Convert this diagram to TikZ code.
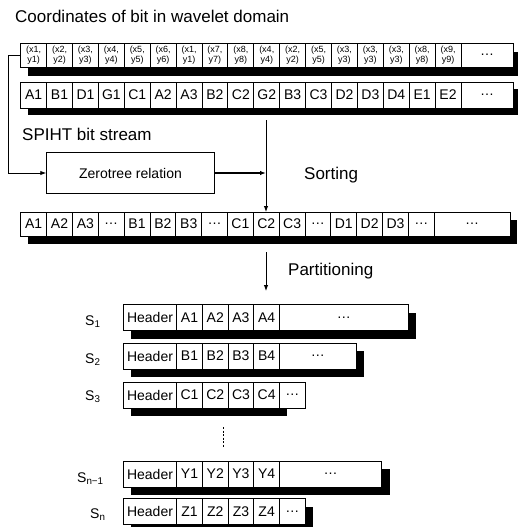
\documentclass[tikz,border=0pt]{standalone}
\usepackage{fontspec}
\setmainfont{Liberation Sans}
\usetikzlibrary{arrows.meta,backgrounds}
\begin{document}
\begin{tikzpicture}[x=1pt,y=-1pt,
  cell/.style={draw=black, fill=white, line width=0.9pt, inner sep=0pt, outer sep=0pt,
    anchor=north west, font=\fontsize{14}{16}\selectfont},
  coordcell/.style={cell, font=\fontsize{9}{10}\selectfont, align=center,
    minimum width=25.9pt, minimum height=24pt},
  bitcell/.style={cell, minimum width=25.9pt, minimum height=26pt},
  sortcell/.style={cell, minimum width=25.85pt, minimum height=24pt},
  partcell/.style={cell, minimum width=25.7pt, minimum height=26pt},
  shade/.style={fill=black},
  biglabel/.style={inner sep=0pt, anchor=base west, font=\fontsize{17}{20}\selectfont},
  slabel/.style={inner sep=0pt, anchor=base west, font=\fontsize{14}{16}\selectfont},
  connector/.style={draw=black, line width=0.9pt},
  arr/.style={connector, -{Latex[length=6pt,width=4.5pt]}},
]
\clip (0,0) rectangle (518,527);

% headings
\node[biglabel] (title) at (15,23) {Coordinates of bit in wavelet domain};
\node[biglabel] (spiht) at (22,140) {SPIHT bit stream};
\node[biglabel] (sorting) at (304,179) {Sorting};
\node[biglabel] (partitioning) at (288,275) {Partitioning};

% coordinates of the bits
\foreach \k [count=\i] in {1,2,3,4,5,6,1,7,8,4,2,5,3,3,3,8,9}
  \node[coordcell] (c\i) at ({20.7+(\i-1)*25.9},43) {(x\k,\\y\k)};
\node[coordcell, minimum width=52pt, font=\fontsize{14}{16}\selectfont] (cdots) at (c17.north east) {\ldots};

% bits in wavelet order
\foreach \lab [count=\i] in {A1,B1,D1,G1,C1,A2,A3,B2,C2,G2,B3,C3,D2,D3,D4,E1,E2}
  \node[bitcell] (b\i) at ({20.7+(\i-1)*25.9},82) {\lab};
\node[bitcell, minimum width=52pt] (bdots) at (b17.north east) {\ldots};

% zerotree block
\node[draw=black, line width=0.9pt, minimum width=167.6pt, minimum height=40.6pt,
  inner sep=0pt, font=\fontsize{14}{16}\selectfont] (zt) at (130.5,173) {Zerotree relation};

% sorted stream
\foreach \lab [count=\i] in {A1,A2,A3,\ldots,B1,B2,B3,\ldots,C1,C2,C3,\ldots,D1,D2,D3,\ldots}
  \node[sortcell] (s\i) at ({20.7+(\i-1)*25.85},212) {\lab};
\node[sortcell, minimum width=75.7pt] (sdots) at (s16.north east) {\ldots};

% partitions
\foreach \r/\top/\L/\dw in {1/304.5/A/128.8pt, 2/343/B/76.5pt, 3/382/C/25.7pt, 4/461/Y/102.2pt, 5/498.5/Z/25.7pt}{
  \node[partcell, minimum width=53.4pt] (h\r) at (123.3,\top) {Header};
  \foreach \j in {1,...,4}
    \node[partcell] (p\r-\j) at ({176.7+(\j-1)*25.7},\top) {\L\j};
  \node[partcell, minimum width=\dw] (pd\r) at (p\r-4.north east) {\ldots};
}

\node[slabel] (l1) at (85,325) {S\textsubscript{1}};
\node[slabel] (l2) at (85,363) {S\textsubscript{2}};
\node[slabel] (l3) at (85,400) {S\textsubscript{3}};
\node[slabel] (l4) at (77,482) {S\textsubscript{n−1}};
\node[slabel] (l5) at (90,518) {S\textsubscript{n}};

% drop shadows behind the rows
\begin{scope}[on background layer]
  \fill[shade] ([shift={(7pt,-9pt)}]c1.north west) rectangle ([shift={(5pt,-9pt)}]cdots.south east);
  \fill[shade] ([shift={(7pt,-7pt)}]b1.north west) rectangle ([shift={(5pt,-7pt)}]bdots.south east);
  \fill[shade] ([shift={(7pt,-8pt)}]s1.north west) rectangle ([shift={(7pt,-8pt)}]sdots.south east);
  \foreach \r in {1,2,4,5}
    \fill[shade] ([shift={(8pt,-8pt)}]h\r.north west) rectangle ([shift={(8pt,-8pt)}]pd\r.south east);
  \fill[shade] ([shift={(8pt,0pt)}]h3.south west) rectangle ([shift={(7pt,-8pt)}]p3-4.south east);
\end{scope}

% connectors
\coordinate (sorttop) at (266,120);
\draw[arr] (c1.west) -- ++(-12.7,0) |- (zt.west);
\draw[connector, line width=1.5pt, -{Latex[length=6pt,width=4.5pt]}] (zt.east) -- (zt.east -| sorttop);
\draw[arr] (sorttop) -- (sorttop |- s11.north);

\coordinate (parttop) at (266,252);
\coordinate (partend) at (266,291);
\draw[arr] (parttop) -- (partend);

\coordinate (gap1) at (223,427);
\coordinate (gap2) at (223,447);
\draw[line width=1pt, dash pattern=on 2pt off 1.5pt] (gap1) -- (gap2);
\end{tikzpicture}
\end{document}
